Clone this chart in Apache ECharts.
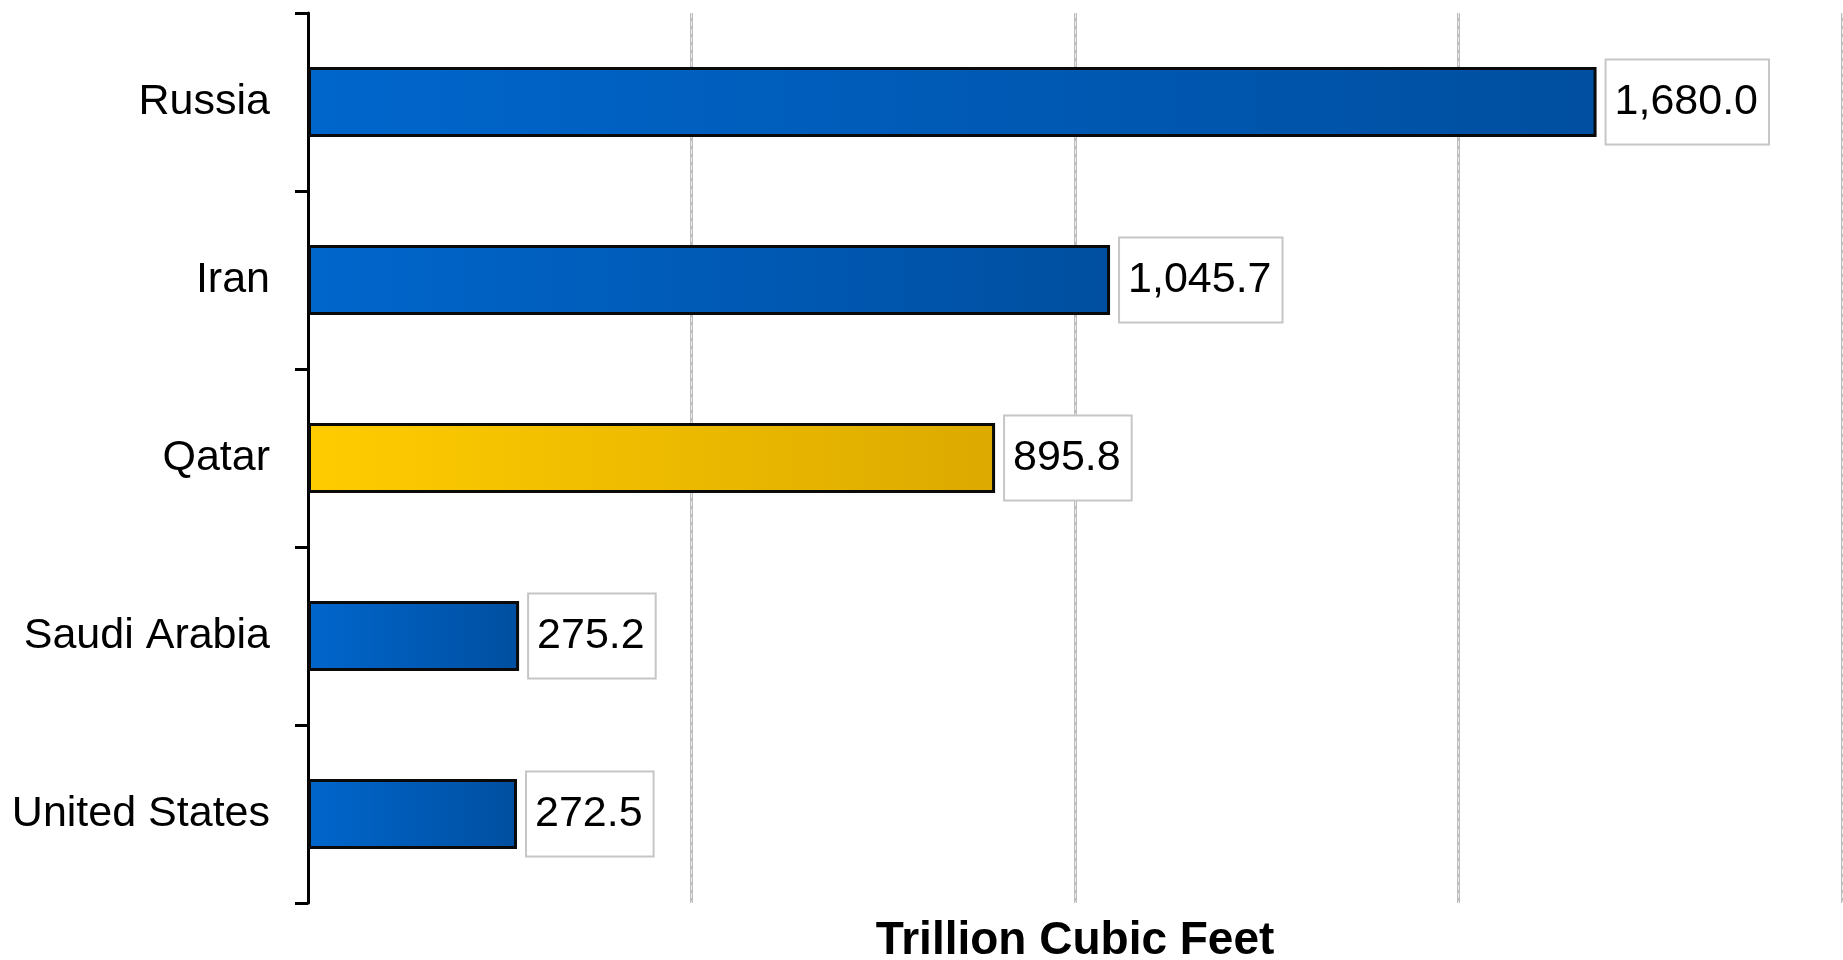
<!DOCTYPE html>
<html>
<head>
<meta charset="utf-8">
<script src="https://cdn.jsdelivr.net/npm/echarts@6/dist/echarts.min.js"></script>
<style>
  html, body { margin: 0; padding: 0; background: #ffffff; }
  #chart { width: 1843px; height: 960px; }
</style>
</head>
<body>
<div id="chart"></div>
<script>
// Proved natural gas reserves, top holders (trillion cubic feet)
const countries = ['Russia', 'Iran', 'Qatar', 'Saudi Arabia', 'United States'];
const reserves = [1680.0, 1045.7, 895.8, 275.2, 272.5];
const highlighted = ['Qatar'];
const axisTitle = 'Trillion Cubic Feet';

const blueFill = new echarts.graphic.LinearGradient(0, 0, 1, 0, [
  { offset: 0, color: '#0066cc' },
  { offset: 1, color: '#004fa0' }
]);
const goldFill = new echarts.graphic.LinearGradient(0, 0, 1, 0, [
  { offset: 0, color: '#ffcc00' },
  { offset: 1, color: '#dcaa00' }
]);

const barData = countries.map((name, i) => ({
  value: reserves[i],
  itemStyle: { color: highlighted.includes(name) ? goldFill : blueFill }
}));

const fmt = v => Number(v).toLocaleString('en-US', { minimumFractionDigits: 1, maximumFractionDigits: 1 });

// shared value scale for the main axis and the overlay that dashes the grid lines
const valueScale = { type: 'value', min: 0, max: 2000, interval: 500 };

const chart = echarts.init(document.getElementById('chart'), null, { renderer: 'canvas' });
chart.setOption({
  animation: false,
  backgroundColor: '#ffffff',
  grid: {
    left: 308, right: 1, top: 13, bottom: 57,
    containLabel: false,
    outerBoundsMode: 'none'
  },
  xAxis: [{
    ...valueScale,
    name: axisTitle,
    nameLocation: 'middle',
    nameGap: 15,
    nameTextStyle: {
      fontFamily: 'Liberation Sans, Arial, sans-serif',
      fontWeight: 'bold',
      fontSize: 46,
      color: '#000000',
      verticalAlign: 'top'
    },
    axisLine: { show: false },
    axisTick: { show: false },
    axisLabel: { show: false },
    splitLine: {
      show: true,
      lineStyle: { color: '#bdbdbd', width: 3, type: 'solid' }
    }
  }, {
    ...valueScale,
    position: 'top',
    axisLine: { show: false },
    axisTick: { show: false },
    axisLabel: { show: false },
    splitLine: {
      show: true,
      lineStyle: { color: '#ececec', width: 1, type: [5, 3] }
    }
  }],
  yAxis: {
    type: 'category',
    data: countries,
    inverse: true,
    axisLine: { show: true, lineStyle: { color: '#000000', width: 3 } },
    axisTick: { show: true, length: 13, lineStyle: { color: '#000000', width: 3 } },
    axisLabel: {
      margin: 38,
      fontFamily: 'Liberation Sans, Arial, sans-serif',
      fontSize: 43,
      color: '#000000'
    },
    splitLine: { show: false }
  },
  series: [{
    type: 'bar',
    xAxisIndex: 0,
    data: barData,
    barWidth: 70,
    itemStyle: { borderColor: '#0a0a0a', borderWidth: 3 },
    label: {
      show: true,
      position: 'right',
      distance: 10,
      formatter: p => fmt(p.value),
      fontFamily: 'Liberation Sans, Arial, sans-serif',
      fontSize: 43,
      color: '#000000',
      backgroundColor: '#ffffff',
      borderColor: '#c6c6c6',
      borderWidth: 2,
      lineHeight: 47,
      padding: [18, 10, 18, 8]
    }
  }]
});
</script>
</body>
</html>
